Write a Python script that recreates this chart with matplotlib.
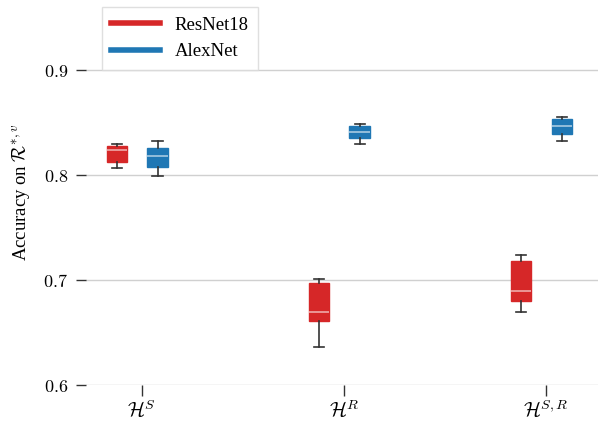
import matplotlib
matplotlib.use("Agg")
import matplotlib.pyplot as plt
from matplotlib.lines import Line2D
from matplotlib.ticker import FuncFormatter

# data (box stats per category)
categories = [r"$\mathcal{H}^{S}$", r"$\mathcal{H}^{R}$", r"$\mathcal{H}^{S,R}$"]
models = ["ResNet18", "AlexNet"]
colors = ["#d62728", "#1f77b4"]

resnet_whislo = [0.807, 0.636, 0.670]
resnet_q1 = [0.813, 0.661, 0.680]
resnet_med = [0.824, 0.670, 0.690]
resnet_q3 = [0.828, 0.697, 0.718]
resnet_whishi = [0.830, 0.701, 0.724]

alex_whislo = [0.799, 0.830, 0.833]
alex_q1 = [0.808, 0.835, 0.839]
alex_med = [0.818, 0.841, 0.847]
alex_q3 = [0.826, 0.847, 0.854]
alex_whishi = [0.833, 0.849, 0.855]

yticks = [0.6, 0.7, 0.8, 0.9]

plt.rcParams["font.family"] = ["Liberation Serif", "DejaVu Serif"]
plt.rcParams["mathtext.fontset"] = "cm"

fig = plt.figure(figsize=(5.98, 4.26), dpi=100)
ax = fig.add_axes([86 / 598, 41 / 426, 512 / 598, 385 / 426])

series = [
    (resnet_whislo, resnet_q1, resnet_med, resnet_q3, resnet_whishi),
    (alex_whislo, alex_q1, alex_med, alex_q3, alex_whishi),
]
offsets = [-0.124, 0.077]

for k, (lo, q1, med, q3, hi) in enumerate(series):
    stats = [dict(whislo=lo[i], q1=q1[i], med=med[i], q3=q3[i], whishi=hi[i])
             for i in range(len(categories))]
    pos = [i + offsets[k] for i in range(len(categories))]
    ax.bxp(stats, positions=pos, widths=0.1, showfliers=False, patch_artist=True,
           boxprops=dict(facecolor=colors[k], edgecolor=colors[k], linewidth=1),
           medianprops=dict(color="white", alpha=0.6, linewidth=1.2),
           whiskerprops=dict(color="#333333", linewidth=1.2),
           capprops=dict(color="#333333", linewidth=1.2),
           manage_ticks=False)

ax.set_xlim(-0.277, 2.257)
ax.set_ylim(0.6, 0.967)
ax.set_xticks(range(len(categories)))
ax.set_xticklabels(categories, fontsize=14.5)
ax.set_yticks(yticks)
ax.yaxis.set_major_formatter(FuncFormatter(lambda v, p: r"$%.1f$" % v))
ax.tick_params(axis="y", labelsize=13, length=7, width=1, color="#333333",
               direction="out", pad=6)
ax.tick_params(axis="x", length=8, width=1, color="#333333", direction="out", pad=4)
ax.grid(axis="y", color="#d0d0d0", linewidth=1)
ax.set_axisbelow(True)
for s in ax.spines.values():
    s.set_visible(False)
ax.set_ylabel(r"Accuracy on $\mathcal{R}^{*,v}$", fontsize=13.5)
ax.yaxis.set_label_coords(-0.105, 0.5)

handles = [Line2D([], [], color=c, linewidth=4) for c in colors]
ax.legend(handles, models, loc="upper left", bbox_to_anchor=(0.012, 1.005),
          fontsize=13.5, frameon=True, fancybox=False, edgecolor="#d8d8d8",
          handlelength=2.6, borderpad=0.5, labelspacing=0.5)

fig.savefig("out.png", dpi=100)
